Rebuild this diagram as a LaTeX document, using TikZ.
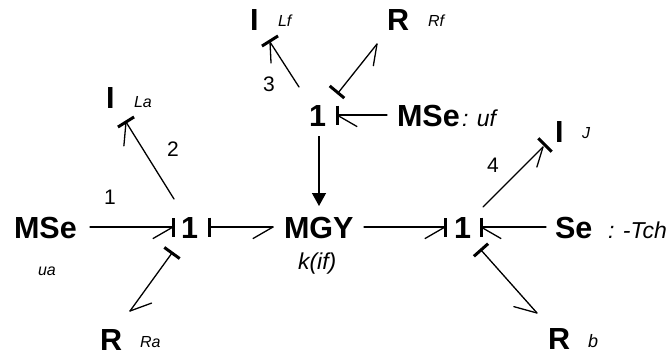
\documentclass[tikz,border=0pt]{standalone}
\usepackage{fontspec}
\setmainfont{Liberation Sans}
\usetikzlibrary{calc,arrows.meta}
\newcommand{\halfbond}[4]{% origin, tip, barb angle, barb length
  \coordinate (bs) at #1; \coordinate (bt) at #2;
  \draw[bondline] (bs) -- (bt);
  \draw[bondline] ($(bt)!#4!#3:(bs)$) -- (bt);
}
\newcommand{\causal}[2]{% stroke at #1, bond running towards #2
  \coordinate (cs) at #1; \coordinate (ct) at #2;
  \draw[causalbar] ($(cs)!9.5pt!90:(ct)$) -- ($(cs)!9.5pt!-90:(ct)$);
}
\tikzset{
  element/.style={inner sep=0pt,outer sep=0pt,anchor=base west,font=\fontsize{30.5}{30}\selectfont\bfseries,execute at begin node=\hspace{1pt}},
  param/.style={inner sep=0pt,outer sep=0pt,anchor=base west,font=\fontsize{16}{16}\selectfont\itshape},
  bigparam/.style={inner sep=0pt,outer sep=0pt,anchor=base west,font=\fontsize{23}{23}\selectfont\itshape},
  bondnum/.style={inner sep=0pt,outer sep=0pt,anchor=base west,font=\fontsize{21}{21}\selectfont},
  bondline/.style={line width=1.3pt,line cap=round},
  causalbar/.style={line width=3pt},
  signal/.style={line width=1.3pt,-{Triangle[length=13pt,width=14pt]}}
}
\begin{document}
\begin{tikzpicture}[x=1pt,y=-1pt]
\useasboundingbox (0,0) rectangle (667,353);
% elements
\node[element] (mse) at (13,238) {MSe};
\node[element] (onea) at (180,238) {1};
\node[element] (mgy) at (283,238) {MGY};
\node[element] (oneb) at (453,238) {1};
\node[element] (se) at (554,238) {Se};
\node[element] (onec) at (308,126) {1};
\node[element] (msef) at (396,126) {MSe};
\node[element] (ila) at (105,109) {I};
\node[element] (ilf) at (249,31) {I};
\node[element] (rf) at (386,31) {R};
\node[element] (ij) at (554,142) {I};
\node[element] (ra) at (99,350) {R};
\node[element] (rb) at (547,349) {R};
% parameters
\node[param] (pua) at (38,275) {ua};
\node[param] (pla) at (134,107) {La};
\node[param] (plf) at (278,27) {Lf};
\node[param] (prf) at (428,27) {Rf};
\node[param] (pra) at (140,347) {Ra};
\node[param] (pj) at (582,138) {J};
\node[param,font=\fontsize{18}{18}\selectfont\itshape] (pb) at (588,347) {b};
\node[bigparam] (pk) at (298,269) {k(if)};
\node[bigparam] (ptch) at (608,238) {: -Tch};
\node[bigparam] (puf) at (462,126) {: uf};
% bond numbers
\node[bondnum] (n1) at (104,204) {1};
\node[bondnum] (n2) at (167,156) {2};
\node[bondnum] (n3) at (263,92) {3};
\node[bondnum] (n4) at (487,172) {4};
% bonds
\halfbond{([shift={(77,-11)}]mse.base west)}{([shift={(-7,-11)}]onea.base west)}{30}{23pt}
\causal{([shift={(-7,-11)}]onea.base west)}{([shift={(77,-11)}]mse.base west)}
\halfbond{([shift={(29,-11)}]onea.base west)}{([shift={(-10,-11)}]mgy.base west)}{30}{23pt}
\causal{([shift={(29,-11)}]onea.base west)}{([shift={(-10,-11)}]mgy.base west)}
\halfbond{([shift={(81,-11)}]mgy.base west)}{([shift={(-8,-11)}]oneb.base west)}{30}{23pt}
\causal{([shift={(-8,-11)}]oneb.base west)}{([shift={(81,-11)}]mgy.base west)}
\halfbond{([shift={(-8,-11)}]se.base west)}{([shift={(28,-11)}]oneb.base west)}{-30}{23pt}
\causal{([shift={(28,-11)}]oneb.base west)}{([shift={(-8,-11)}]se.base west)}
\halfbond{([shift={(28,12)}]oneb.base west)}{([shift={(-10,-36)}]rb.base west)}{33}{24pt}
\causal{([shift={(28,12)}]oneb.base west)}{([shift={(-10,-36)}]rb.base west)}
\halfbond{([shift={(30,-31)}]oneb.base west)}{([shift={(-11,5)}]ij.base west)}{28}{21pt}
\causal{([shift={(-9,3)}]ij.base west)}{([shift={(30,-31)}]oneb.base west)}
\halfbond{([shift={(-8,15)}]onea.base west)}{([shift={(31,-39)}]ra.base west)}{-34}{23pt}
\causal{([shift={(-8,15)}]onea.base west)}{([shift={(31,-39)}]ra.base west)}
\halfbond{([shift={(-6,-39)}]onea.base west)}{([shift={(21,13)}]ila.base west)}{-37}{24pt}
\causal{([shift={(21,13)}]ila.base west)}{([shift={(-6,-39)}]onea.base west)}
\halfbond{([shift={(-9,-39)}]onec.base west)}{([shift={(21,11)}]ilf.base west)}{-30}{21pt}
\causal{([shift={(21,10)}]ilf.base west)}{([shift={(-9,-39)}]onec.base west)}
\halfbond{([shift={(30,-33)}]onec.base west)}{([shift={(-9,13)}]rf.base west)}{29}{22pt}
\causal{([shift={(29,-34)}]onec.base west)}{([shift={(-9,13)}]rf.base west)}
\halfbond{([shift={(-9,-11)}]msef.base west)}{([shift={(29,-11)}]onec.base west)}{-30}{23pt}
\causal{([shift={(29,-11)}]onec.base west)}{([shift={(-9,-11)}]msef.base west)}
\draw[signal] ([shift={(11,10)}]onec.base west) -- ([shift={(36,-32)}]mgy.base west);
\end{tikzpicture}
\end{document}
